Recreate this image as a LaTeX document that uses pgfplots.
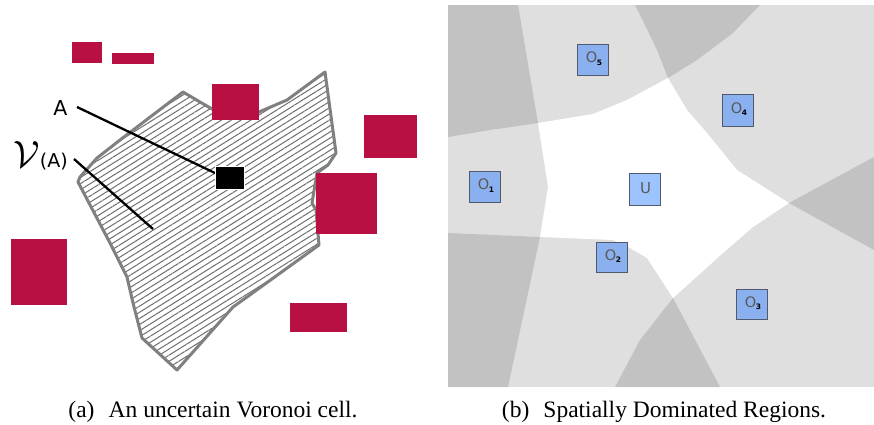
\documentclass[border=0pt]{standalone}
\usepackage{graphicx}
\usepackage{fontspec}
\setmainfont{Liberation Serif}
\newfontfamily\dv{DejaVu Sans}
\usepackage{pgfplots}
\pgfplotsset{compat=1.18}
\usetikzlibrary{patterns.meta}

\definecolor{cellred}{RGB}{184,16,67}
\definecolor{lgray}{RGB}{223,223,223}
\definecolor{dgray}{RGB}{194,194,194}
\definecolor{outl}{RGB}{128,128,128}
\definecolor{hatch}{RGB}{110,110,110}
\definecolor{boxblue}{RGB}{138,176,240}
\definecolor{ublue}{RGB}{158,196,255}
\definecolor{boxedge}{RGB}{80,90,106}
\definecolor{lbl}{RGB}{90,90,90}

\newcommand{\obj}[1]{{\dv\fontsize{14.5}{14.5}\selectfont\textcolor{lbl}{O}\kern-0.5pt\raisebox{-0.3ex}{\fontsize{7.5}{7.5}\selectfont\bfseries #1}}}

\begin{document}
\begin{tikzpicture}
\begin{axis}[
  scale only axis, width=874pt, height=424pt,
  xmin=0, xmax=874, ymin=0, ymax=424, y dir=reverse,
  axis lines=none, clip=false, no markers,
]
% page background
\addplot[fill=white, draw=none] coordinates {(0,0) (874,0) (874,424) (0,424)} -- cycle;

% ---- (b) spatially dominated regions
\addplot[fill=lgray, draw=none] coordinates {(448,5) (874,5) (874,387) (448,387)} -- cycle;
\addplot[fill=dgray, draw=none] coordinates {(448,5) (518,5) (538,123) (490,130) (448,137)} -- cycle;
\addplot[fill=dgray, draw=none] coordinates {(635,5) (760,5) (733,33) (697,60) (668,78) (657,50) (645,25)} -- cycle;
\addplot[fill=dgray, draw=none] coordinates {(789,203) (874,157) (874,250)} -- cycle;
\addplot[fill=dgray, draw=none] coordinates {(673,298) (720,387) (615,387) (640,340)} -- cycle;
\addplot[fill=dgray, draw=none] coordinates {(448,233) (540,237) (508,387) (448,387)} -- cycle;
\addplot[fill=white, draw=none] coordinates {
  (538,123) (593,114) (627,100) (668,78) (687,110) (707,133) (737,170)
  (789,203) (753,227) (723,253) (673,298) (647,258) (630,248) (613,240)
  (540,237) (548,187)} -- cycle;

\addplot[fill=boxblue, draw=boxedge, line width=0.8pt] coordinates {(577,44) (608,44) (608,75) (577,75)} -- cycle;
\addplot[fill=boxblue, draw=boxedge, line width=0.8pt] coordinates {(722,94) (753,94) (753,126) (722,126)} -- cycle;
\addplot[fill=boxblue, draw=boxedge, line width=0.8pt] coordinates {(469,171) (500,171) (500,202) (469,202)} -- cycle;
\addplot[fill=ublue, draw=boxedge, line width=0.8pt] coordinates {(629,173) (660,173) (660,205) (629,205)} -- cycle;
\addplot[fill=boxblue, draw=boxedge, line width=0.8pt] coordinates {(596,242) (627,242) (627,272) (596,272)} -- cycle;
\addplot[fill=boxblue, draw=boxedge, line width=0.8pt] coordinates {(736,289) (767,289) (767,319) (736,319)} -- cycle;

\node at (axis cs:594,58.5) {\obj{5}};
\node at (axis cs:739,109) {\obj{4}};
\node at (axis cs:486,185.5) {\obj{1}};
\node at (axis cs:613,256) {\obj{2}};
\node at (axis cs:753,303) {\obj{3}};
\node at (axis cs:645.5,188.5) {\dv\fontsize{15}{15}\selectfont\textcolor{lbl}{U}};

% ---- (a) uncertain Voronoi cell
\addplot[draw=outl, line width=3pt, line join=round,
  pattern={Lines[angle=32, distance=5.2pt, line width=1pt]}, pattern color=hatch]
  coordinates {
  (183,92) (212,109) (259,112) (287,100) (325,72) (336,153) (328,165)
  (317,173) (312,203) (316,210) (319,245) (247,297) (233,307) (177,370)
  (142,338) (133,303) (127,277) (110,243) (78,182) (80,177) (97,158)
  (120,140)} -- cycle;

\addplot[fill=cellred, draw=none] coordinates {(72,42) (102,42) (102,63) (72,63)} -- cycle;
\addplot[fill=cellred, draw=none] coordinates {(112,53) (154,53) (154,64) (112,64)} -- cycle;
\addplot[fill=cellred, draw=none] coordinates {(212,84) (259,84) (259,120) (212,120)} -- cycle;
\addplot[fill=cellred, draw=none] coordinates {(364,115) (417,115) (417,158) (364,158)} -- cycle;
\addplot[fill=cellred, draw=none] coordinates {(316,173) (377,173) (377,234) (316,234)} -- cycle;
\addplot[fill=cellred, draw=none] coordinates {(11,239) (67,239) (67,305) (11,305)} -- cycle;
\addplot[fill=cellred, draw=none] coordinates {(290,303) (347,303) (347,332) (290,332)} -- cycle;

\addplot[black, line width=2.3pt] coordinates {(77,107) (215,173)};
\addplot[black, line width=2.3pt] coordinates {(74,159) (153,229)};
\addplot[fill=black, draw=white, line width=1pt] coordinates {(215,166) (244,166) (244,189) (215,189)} -- cycle;

\node[anchor=base, inner sep=0pt] at (axis cs:60.5,115) {\dv\fontsize{20.5}{20.5}\selectfont A};
\node[anchor=base east, inner sep=0pt] at (axis cs:68,167)
  {\scalebox{3.8}{$\mathcal{V}$}{\dv\fontsize{19}{19}\selectfont(A)}};

% ---- captions
\node[anchor=base, inner sep=0pt] at (axis cs:213,417)
  {\fontsize{23.5}{23.5}\selectfont (a)\hskip0.6em An uncertain Voronoi cell.};
\node[anchor=base, inner sep=0pt] at (axis cs:664,417)
  {\fontsize{23.5}{23.5}\selectfont (b)\hskip0.6em Spatially Dominated Regions.};
\end{axis}
\end{tikzpicture}
\end{document}
